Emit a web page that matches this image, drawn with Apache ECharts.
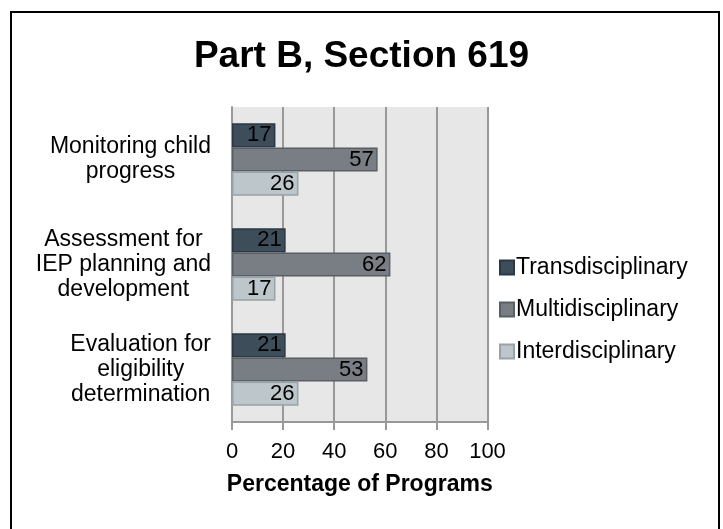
<!DOCTYPE html>
<html>
<head>
<meta charset="utf-8">
<script src="https://cdn.jsdelivr.net/npm/echarts@6/dist/echarts.min.js"></script>
<style>
  html, body { margin: 0; padding: 0; background: #fff; }
  #chart { width: 723px; height: 529px; }
</style>
</head>
<body>
<div id="chart"></div>
<script>
// data, top to bottom
const categories = [
  "Monitoring child\nprogress",
  "Assessment for\nIEP planning and\ndevelopment",
  "Evaluation for\neligibility\ndetermination"
];
const transValues = [17, 21, 21];
const multiValues = [57, 62, 53];
const interValues = [26, 17, 26];
const xTicks = [0, 20, 40, 60, 80, 100];

const font = "'Liberation Sans', Arial, sans-serif";

const chart = echarts.init(document.getElementById("chart"));

const barLabel = {
  show: true,
  position: "insideRight",
  distance: 4,
  color: "#000",
  fontSize: 22,
  fontFamily: font
};

function makeSeries(name, data, fill, border) {
  return {
    name: name,
    type: "bar",
    data: data,
    barGap: "0%",
    barCategoryGap: "31%",
    itemStyle: { color: fill, borderColor: border, borderWidth: 1.5 },
    label: barLabel
  };
}

const option = {
  animation: false,
  backgroundColor: "#fff",
  textStyle: { fontFamily: font },
  title: {
    text: "Part B, Section 619",
    left: "center",
    top: 33,
    textStyle: { fontSize: 37, fontWeight: "bold", color: "#000", fontFamily: font }
  },
  graphic: [{
    type: "rect",
    shape: { x: 11, y: 12, width: 708, height: 520 },
    style: { fill: "none", stroke: "#000", lineWidth: 2 },
    silent: true
  }],
  legend: {
    orient: "vertical",
    left: 494,
    top: 251,
    icon: "rect",
    itemWidth: 14,
    itemHeight: 14,
    itemGap: 19,
    data: ["Transdisciplinary", "Multidisciplinary", "Interdisciplinary"],
    textStyle: { fontSize: 23, color: "#000", fontFamily: font, padding: [0, 0, 0, -3] }
  },
  grid: {
    left: 232,
    right: 235.5,
    top: 107,
    bottom: 107,
    show: true,
    backgroundColor: "#e7e7e7",
    borderWidth: 0
  },
  xAxis: {
    type: "value",
    min: 0,
    max: 100,
    interval: 20,
    name: "Percentage of Programs",
    nameLocation: "middle",
    nameGap: 51,
    nameTextStyle: { fontSize: 23, fontWeight: "bold", color: "#000", fontFamily: font },
    axisLine: { show: true, lineStyle: { color: "#999", width: 2 } },
    axisTick: { show: true, length: 8, lineStyle: { color: "#999", width: 2 } },
    axisLabel: {
      margin: 19,
      fontSize: 22,
      color: "#000",
      fontFamily: font,
      formatter: v => xTicks.includes(v) ? String(v) : ""
    },
    splitLine: { show: true, lineStyle: { color: "#999", width: 2 } }
  },
  yAxis: {
    type: "category",
    inverse: true,
    data: categories,
    axisLine: { show: true, lineStyle: { color: "#999", width: 2 } },
    axisTick: { show: false },
    axisLabel: {
      margin: 21,
      align: "right",
      formatter: v => v.split("\n").map(s => "{c|" + s + "}").join("\n"),
      rich: {
        c: { align: "center", fontSize: 23, lineHeight: 25, color: "#000", fontFamily: font }
      }
    }
  },
  series: [
    makeSeries("Transdisciplinary", transValues, "#3d4d5a", "#2b3843"),
    makeSeries("Multidisciplinary", multiValues, "#787e84", "#595f65"),
    makeSeries("Interdisciplinary", interValues, "#bdc6ca", "#98a2a7")
  ]
};

chart.setOption(option);
</script>
</body>
</html>
